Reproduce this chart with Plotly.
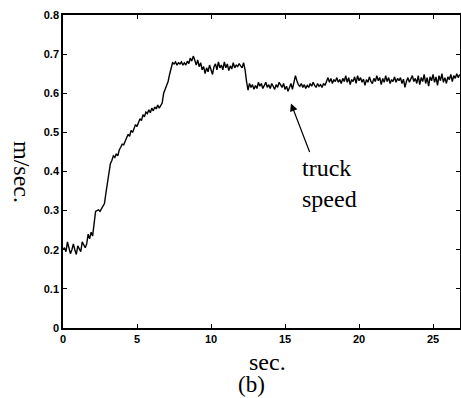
import plotly.graph_objects as go

# sample period (s) of the recorded truck speed
sample_dt = 0.1

# truck speed (m/sec.), one value per 0.1 s
speed = [
    0.200, 0.205, 0.195, 0.220, 0.205, 0.190, 0.200, 0.215, 0.200, 0.188,
    0.210, 0.200, 0.195, 0.220, 0.210, 0.205, 0.215, 0.240, 0.228, 0.245,
    0.235, 0.265, 0.298, 0.300, 0.302, 0.298, 0.305, 0.310, 0.318, 0.345,
    0.372, 0.400, 0.420, 0.428, 0.440, 0.436, 0.445, 0.440, 0.455, 0.462,
    0.470, 0.468, 0.478, 0.488, 0.495, 0.490, 0.505, 0.500, 0.512, 0.520,
    0.515, 0.528, 0.535, 0.530, 0.545, 0.540, 0.552, 0.548, 0.558, 0.550,
    0.562, 0.555, 0.565, 0.560, 0.570, 0.562, 0.568, 0.575, 0.600, 0.610,
    0.618, 0.630, 0.648, 0.668, 0.678, 0.675, 0.680, 0.672, 0.678, 0.675,
    0.680, 0.672, 0.678, 0.672, 0.682, 0.676, 0.690, 0.682, 0.695, 0.685,
    0.672, 0.685, 0.668, 0.678, 0.660, 0.668, 0.650, 0.665, 0.655, 0.672,
    0.660, 0.648, 0.668, 0.675, 0.660, 0.680, 0.665, 0.672, 0.660, 0.680,
    0.665, 0.675, 0.658, 0.670, 0.662, 0.678, 0.665, 0.672, 0.668, 0.676,
    0.670, 0.665, 0.678, 0.660, 0.630, 0.608, 0.625, 0.615, 0.622, 0.610,
    0.620, 0.612, 0.628, 0.618, 0.625, 0.612, 0.620, 0.628, 0.615, 0.622,
    0.612, 0.625, 0.618, 0.610, 0.622, 0.615, 0.628, 0.620, 0.615, 0.625,
    0.610, 0.618, 0.605, 0.615, 0.625, 0.610, 0.630, 0.645, 0.632, 0.622,
    0.618, 0.625, 0.615, 0.622, 0.612, 0.620, 0.615, 0.625, 0.618, 0.628,
    0.620, 0.615, 0.625, 0.618, 0.622, 0.615, 0.625, 0.620, 0.630, 0.640,
    0.628, 0.638, 0.625, 0.635, 0.630, 0.640, 0.628, 0.635, 0.625, 0.638,
    0.630, 0.645, 0.628, 0.640, 0.622, 0.635, 0.630, 0.642, 0.625, 0.645,
    0.632, 0.640, 0.628, 0.636, 0.620, 0.635, 0.628, 0.642, 0.630, 0.625,
    0.638, 0.630, 0.645, 0.632, 0.640, 0.622, 0.638, 0.628, 0.645, 0.630,
    0.640, 0.625, 0.635, 0.630, 0.642, 0.628, 0.638, 0.632, 0.640, 0.625,
    0.636, 0.615, 0.630, 0.640, 0.628, 0.635, 0.645, 0.630, 0.638, 0.625,
    0.645, 0.622, 0.640, 0.630, 0.648, 0.625, 0.640, 0.618, 0.642, 0.632,
    0.648, 0.628, 0.642, 0.620, 0.645, 0.632, 0.650, 0.628, 0.640, 0.625,
    0.642, 0.635, 0.648, 0.630, 0.645, 0.638, 0.650, 0.640, 0.648,
]
time_s = [round(i * sample_dt, 1) for i in range(len(speed))]

x_ticks = [0, 5, 10, 15, 20, 25]
y_ticks = [0, 0.1, 0.2, 0.3, 0.4, 0.5, 0.6, 0.7, 0.8]
y_tick_labels = ["0", "0.1", "0.2", "0.3", "0.4", "0.5", "0.6", "0.7", "0.8"]

# annotation anchor points (data units)
arrow_tip = (15.4, 0.574)
arrow_tail = (16.7, 0.446)
label_pos = (16.0, 0.37)

fig = go.Figure()
fig.add_trace(go.Scatter(
    x=time_s, y=speed, mode="lines",
    line=dict(color="black", width=1.4),
    showlegend=False, hoverinfo="skip",
))

axis_common = dict(
    showline=True, linecolor="black", linewidth=1.5, mirror="ticks",
    ticks="inside", ticklen=4, tickwidth=1.2, tickcolor="black",
    showgrid=False, zeroline=False,
    tickfont=dict(family="Liberation Sans", size=11, color="black", weight="bold"),
)

fig.update_layout(
    width=461, height=398,
    margin=dict(l=63, r=1, t=15, b=70, autoexpand=False),
    paper_bgcolor="white", plot_bgcolor="white",
    xaxis=dict(range=[0, 26.82], tickvals=x_ticks, automargin=False, **axis_common),
    yaxis=dict(range=[0, 0.8], tickvals=y_ticks, ticktext=y_tick_labels,
               automargin=False, **axis_common),
)

serif = dict(family="Liberation Serif", size=24, color="black")

fig.add_annotation(
    x=arrow_tip[0], y=arrow_tip[1], ax=arrow_tail[0], ay=arrow_tail[1],
    xref="x", yref="y", axref="x", ayref="y",
    text="", showarrow=True, arrowhead=2, arrowsize=1.3, arrowwidth=1.2,
    arrowcolor="black",
)
fig.add_annotation(
    x=label_pos[0], y=label_pos[1], xref="x", yref="y",
    text="truck<br>speed", showarrow=False, align="left",
    xanchor="left", yanchor="middle", font=serif,
)
fig.add_annotation(
    x=0.516, y=-0.109, xref="paper", yref="paper", text="sec.",
    showarrow=False, xanchor="center", yanchor="middle", font=serif,
)
fig.add_annotation(
    x=0.476, y=-0.182, xref="paper", yref="paper", text="(b)",
    showarrow=False, xanchor="center", yanchor="middle",
    font=dict(family="Liberation Serif", size=23, color="black"),
)
fig.add_annotation(
    x=-0.103, y=0.498, xref="paper", yref="paper", text="m/sec.",
    showarrow=False, textangle=90, xanchor="center", yanchor="middle", font=serif,
)

fig.write_html(
    "out.html",
    config={"displayModeBar": False},
    post_script="document.body.style.margin='0';document.body.style.overflow='hidden';",
)
